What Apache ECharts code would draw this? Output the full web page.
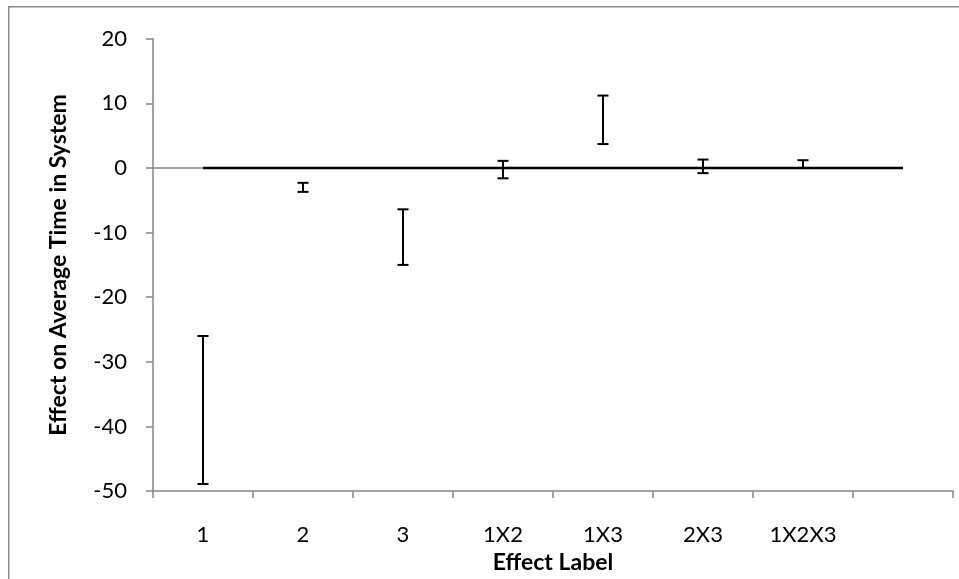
<!DOCTYPE html>
<html>
<head>
<meta charset="utf-8">
<script src="https://cdn.jsdelivr.net/npm/echarts@6/dist/echarts.min.js"></script>
<style>html,body{margin:0;padding:0;background:#fff;}#c{width:959px;height:579px;}</style>
</head>
<body>
<div id="c"></div>
<script>
var categories = ['1', '2', '3', '1X2', '1X3', '2X3', '1X2X3', ''];
var effectLabels = ['1', '2', '3', '1X2', '1X3', '2X3', '1X2X3'];
var lowValues = [-48.9, -3.7, -15.0, -1.6, 3.7, -0.8, 0.0];
var highValues = [-26.0, -2.3, -6.4, 1.1, 11.2, 1.3, 1.2];
var zeroLineStart = 0;
var zeroLineEnd = 7;
var zeroValue = 0;
var yTicks = [-50, -40, -30, -20, -10, 0, 10, 20];

var barData = effectLabels.map(function (c, i) { return [i, lowValues[i], highValues[i]]; });

var chart = echarts.init(document.getElementById('c'), null, {renderer: 'canvas'});
var font = 'Lato';
var axisGray = '#868686';
chart.setOption({
  animation: false,
  backgroundColor: '#fff',
  graphic: [{
    type: 'rect', left: 8, top: 6, z: -10,
    shape: {x: 0, y: 0, width: 1000, height: 1000},
    style: {fill: '#fff', stroke: '#8c8c8c', lineWidth: 1.5}
  }],
  grid: {left: 153, right: 6, top: 38.7, bottom: 80.7, containLabel: false},
  xAxis: [{
    type: 'category',
    data: categories,
    boundaryGap: true,
    axisLine: {onZero: false, lineStyle: {color: axisGray, width: 1.5}},
    axisTick: {show: true, length: 7, lineStyle: {color: axisGray, width: 1.5}},
    axisLabel: {color: '#000', fontFamily: font, fontSize: 22, margin: 33, interval: 0},
    splitLine: {show: false},
    name: 'Effect Label',
    nameLocation: 'middle',
    nameGap: 53,
    nameTextStyle: {color: '#000', fontFamily: font, fontSize: 23, fontWeight: 'bold'}
  }, {
    type: 'value', min: -0.5, max: 7.5, show: false
  }],
  yAxis: {
    type: 'value',
    min: yTicks[0], max: yTicks[yTicks.length - 1], interval: 10,
    axisLine: {show: true, onZero: false, lineStyle: {color: axisGray, width: 1.5}},
    axisTick: {show: true, length: 7, lineStyle: {color: axisGray, width: 1.5}},
    axisLabel: {color: '#000', fontFamily: font, fontSize: 22, margin: 26},
    splitLine: {show: false},
    name: 'Effect on Average Time in System',
    nameLocation: 'middle',
    nameGap: 83,
    nameTextStyle: {color: '#000', fontFamily: font, fontSize: 23, fontWeight: 'bold'}
  },
  series: [{
    type: 'line',
    xAxisIndex: 1,
    data: [[-0.5, zeroValue], [zeroLineStart, zeroValue]],
    symbol: 'none',
    lineStyle: {color: axisGray, width: 1.5},
    z: 1
  }, {
    type: 'line',
    xAxisIndex: 1,
    data: [[zeroLineStart, zeroValue], [zeroLineEnd, zeroValue]],
    symbol: 'none',
    lineStyle: {color: '#000', width: 2.5},
    z: 2
  }, {
    type: 'custom',
    xAxisIndex: 1,
    data: barData,
    z: 3,
    renderItem: function (params, api) {
      var x = api.value(0), lo = api.value(1), hi = api.value(2);
      var pHi = api.coord([x, hi]);
      var pLo = api.coord([x, lo]);
      var hw = 5.5;
      var st = {stroke: '#000', lineWidth: 2};
      return {type: 'group', children: [
        {type: 'line', shape: {x1: pHi[0], y1: pHi[1], x2: pLo[0], y2: pLo[1]}, style: st},
        {type: 'line', shape: {x1: pHi[0] - hw, y1: pHi[1], x2: pHi[0] + hw, y2: pHi[1]}, style: st},
        {type: 'line', shape: {x1: pLo[0] - hw, y1: pLo[1], x2: pLo[0] + hw, y2: pLo[1]}, style: st}
      ]};
    }
  }]
});
</script>
</body>
</html>
